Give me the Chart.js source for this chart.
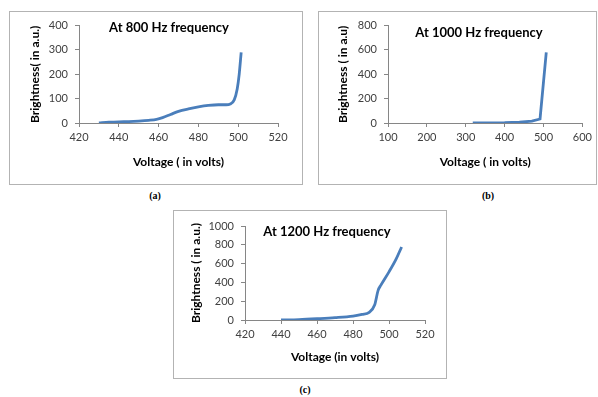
<!DOCTYPE html>
<html lang="en">
<head>
<meta charset="UTF-8">
<script src="https://cdn.jsdelivr.net/npm/chart.js"></script>
<style>
  body { margin:0; width:598px; height:397px; background:#fff; position:relative; overflow:hidden; font-family:Lato, sans-serif; }
  .box { position:absolute; box-sizing:border-box; border:1px solid #b3b3b3; }
  .box canvas { position:absolute; left:0; top:0; }
  .titulo { position:absolute; font-weight:bold; font-size:13px; color:#000; white-space:nowrap; transform:translate(-50%,-50%); }
  .legenda { position:absolute; font-family:"Liberation Serif", serif; font-weight:bold; font-size:10px; color:#000; transform:translate(-50%,-50%); }
</style>
<title>Brightness vs Voltage</title>
</head>
<body>

<div class="box" style="left:9px; top:11px; width:294px; height:174px;">
  <canvas id="grafA" width="292" height="172"></canvas>
</div>
<div class="titulo" style="left:169px; top:27px;">At 800 Hz frequency</div>
<div class="legenda" style="left:155px; top:195px;">(a)</div>

<div class="box" style="left:318px; top:11px; width:279px; height:174px;">
  <canvas id="grafB" width="277" height="172"></canvas>
</div>
<div class="titulo" style="left:479px; top:32px;">At 1000 Hz frequency</div>
<div class="legenda" style="left:488px; top:195px;">(b)</div>

<div class="box" style="left:173px; top:210px; width:274px; height:169px;">
  <canvas id="grafC" width="272" height="167"></canvas>
</div>
<div class="titulo" style="left:327px; top:231px;">At 1200 Hz frequency</div>
<div class="legenda" style="left:305px; top:389px;">(c)</div>

<script>
// (a) 800 Hz
const voltsA = [430, 435, 440, 445, 450, 455, 459, 462, 466, 470, 475, 480, 485, 490, 494, 496, 498, 499.5, 500.5, 501.5];
const brilhoA = [0, 3, 5, 6, 8, 11, 15, 22, 35, 48, 58, 66, 72, 75, 75, 78, 95, 140, 200, 290];

// (b) 1000 Hz
const voltsB = [318, 350, 400, 438, 470, 491, 507];
const brilhoB = [0, 1, 2, 6, 15, 33, 580];

// (c) 1200 Hz
const voltsC = [440, 450, 460, 470, 480, 485, 489, 492, 494, 495.5, 500, 504, 507];
const brilhoC = [0, 5, 14, 25, 42, 60, 81, 159, 318, 371, 512, 650, 777];

// eixos: [min, max, passo]
const eixoXA = [420, 520, 20], eixoYA = [0, 400, 100];
const eixoXB = [100, 600, 100], eixoYB = [0, 800, 200];
const eixoXC = [420, 520, 20], eixoYC = [0, 1000, 200];

Chart.defaults.font.family = 'Lato, sans-serif';

function grafico(id, volts, brilho, eixoX, eixoY, tituloX, tituloY, lay, suave) {
  const pontos = volts.map((v, i) => ({ x: v, y: brilho[i] }));
  const cinza = '#868686';
  return new Chart(document.getElementById(id), {
    type: 'scatter',
    data: {
      datasets: [{
        data: pontos,
        showLine: true,
        borderColor: '#4a7ebb',
        backgroundColor: '#4a7ebb',
        borderWidth: 2.8,
        pointRadius: 0,
        cubicInterpolationMode: suave ? 'monotone' : 'default',
        tension: 0,
      }]
    },
    options: {
      responsive: false,
      animation: false,
      layout: { padding: { left: lay.l, top: lay.t, right: lay.r, bottom: lay.b } },
      plugins: { legend: { display: false }, tooltip: { enabled: false } },
      scales: {
        x: {
          type: 'linear',
          min: eixoX[0], max: eixoX[1],
          ticks: { stepSize: eixoX[2], color: '#404040', font: { size: 11 }, padding: 4, maxRotation: 0,
                   format: { useGrouping: false } },
          grid: { drawOnChartArea: false, tickLength: 4, color: cinza },
          border: { color: cinza },
          title: { display: true, text: tituloX, color: '#000', font: { size: 12, weight: 'bold' }, padding: 0 },
          afterFit: function (s) { s.height = lay.xh; }
        },
        y: {
          min: eixoY[0], max: eixoY[1],
          ticks: { stepSize: eixoY[2], color: '#404040', font: { size: 11 }, padding: 7,
                   format: { useGrouping: false } },
          grid: { drawOnChartArea: false, tickLength: 4, color: cinza },
          border: { color: cinza },
          title: { display: true, text: tituloY, color: '#000', font: { size: 12, weight: 'bold' }, padding: 0 },
          afterFit: function (s) { s.width = lay.yw; }
        }
      }
    }
  });
}

grafico('grafA', voltsA, brilhoA, eixoXA, eixoYA, 'Voltage ( in volts)', 'Brightness( in a.u.)',
  { l: 18, t: 13, r: 24, b: 15, yw: 51, xh: 46 }, true);
grafico('grafB', voltsB, brilhoB, eixoXB, eixoYB, 'Voltage ( in volts)', 'Brightness ( in a.u)',
  { l: 17, t: 13, r: 13, b: 15, yw: 52, xh: 46 }, false);
grafico('grafC', voltsC, brilhoC, eixoXC, eixoYC, 'Voltage (in volts)', 'Brightness ( in a.u.)',
  { l: 15, t: 15, r: 21, b: 14, yw: 56, xh: 44 }, true);
</script>
</body>
</html>
